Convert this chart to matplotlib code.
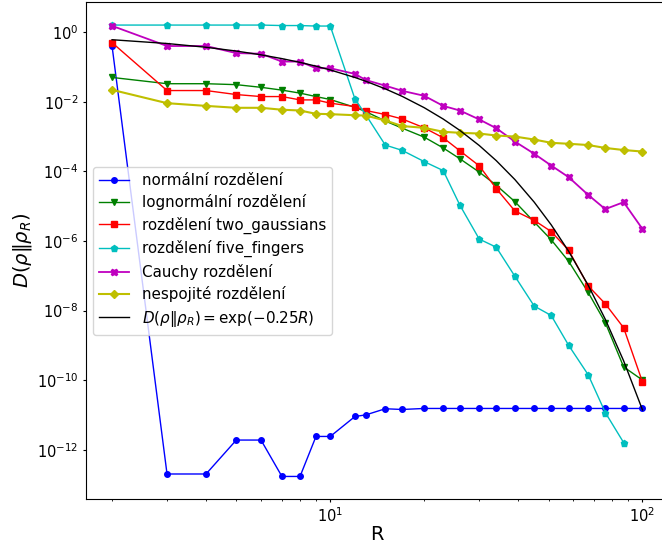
import numpy as np
import matplotlib
matplotlib.use("Agg")
import matplotlib.pyplot as plt

# hodnoty R (osa x)
R = np.array([2, 3, 4, 5, 6, 7, 8, 9, 10, 12, 13, 15, 17, 20, 23, 26, 30, 34,
              39, 45, 51, 58, 67, 76, 87, 100])

normal = [0.4, 2.0e-13, 2.0e-13, 1.89e-12, 1.89e-12, 1.7e-13, 1.7e-13,
          2.4e-12, 2.4e-12, 9.0e-12, 1.0e-11, 1.5e-11, 1.43e-11, 1.53e-11,
          1.53e-11, 1.53e-11, 1.53e-11, 1.53e-11, 1.53e-11, 1.53e-11, 1.53e-11,
          1.53e-11, 1.53e-11, 1.53e-11, 1.53e-11, 1.53e-11]

lognormal = [0.050, 0.033, 0.033, 0.031, 0.026, 0.0216, 0.0177, 0.0141, 0.0116,
             6.9e-3, 5.2e-3, 2.8e-3, 1.74e-3, 9.6e-4, 4.7e-4, 2.3e-4, 9.5e-5,
             4.0e-5, 1.35e-5, 3.5e-6, 1.08e-6, 2.6e-7, 3.3e-8, 4.5e-9,
             2.4e-10, 1.0e-10]

two_gaussians = [0.50, 0.021, 0.021, 0.0161, 0.0141, 0.0141, 0.0113, 0.0113,
                 9.1e-3, 7.3e-3, 5.6e-3, 4.3e-3, 3.2e-3, 1.78e-3, 9.2e-4,
                 3.9e-4, 1.44e-4, 3.2e-5, 7.3e-6, 3.9e-6, 1.86e-6, 5.4e-7,
                 5.1e-8, 1.56e-8, 3.2e-9, 8.8e-11]

five_fingers = [1.6, 1.6, 1.6, 1.6, 1.6, 1.55, 1.55, 1.5, 1.5, 0.0119, 4.2e-3,
                5.7e-4, 4.0e-4, 1.9e-4, 1.05e-4, 1.07e-5, 1.13e-6, 6.6e-7,
                9.7e-8, 1.34e-8, 7.2e-9, 1.0e-9, 1.42e-10, 1.17e-11, 1.6e-12,
                np.nan]

cauchy = [1.52, 0.40, 0.40, 0.25, 0.24, 0.143, 0.143, 0.092, 0.092, 0.063,
          0.042, 0.029, 0.0206, 0.0148, 7.6e-3, 5.6e-3, 3.1e-3, 1.74e-3,
          7.2e-4, 3.2e-4, 1.47e-4, 6.8e-5, 2.1e-5, 8.2e-6, 1.3e-5, 2.2e-6]

nespojite = [0.022, 9.1e-3, 7.6e-3, 6.7e-3, 6.7e-3, 5.9e-3, 5.6e-3, 4.5e-3,
             4.4e-3, 4.1e-3, 4.0e-3, 2.9e-3, 2.0e-3, 1.78e-3, 1.37e-3, 1.28e-3,
             1.22e-3, 1.07e-3, 1.0e-3, 8.2e-4, 6.6e-4, 6.2e-4, 5.7e-4, 4.7e-4,
             4.1e-4, 3.7e-4]

rate = 0.25  # D = exp(-0.25 R), jak je uvedeno v legende

fig = plt.figure(figsize=(6.62, 5.43), dpi=100)
ax = fig.add_axes([0.1292, 0.081, 0.8814, 0.9144])

ax.loglog(R, normal, 'b-o', lw=1, ms=4, label="normální rozdělení")
ax.loglog(R, lognormal, 'g-v', lw=1, ms=5, label="lognormální rozdělení")
ax.loglog(R, two_gaussians, 'r-s', lw=1, ms=5, label="rozdělení two_gaussians")
ax.loglog(R, five_fingers, 'c-p', lw=1, ms=4.5, label="rozdělení five_fingers")
ax.loglog(R, cauchy, 'm-X', lw=1.3, ms=5, label="Cauchy rozdělení")
ax.loglog(R, nespojite, 'y-D', lw=1.5, ms=4.5, label="nespojité rozdělení")
ax.loglog(R, np.exp(-rate * R), 'k-', lw=1,
          label=r"$D(\rho\|\rho_R) = \exp(-0.25R)$")

ax.set_xlabel("R", fontsize=14, labelpad=0)
ax.set_ylabel(r"$D(\rho\|\rho_R)$", fontsize=14, labelpad=2)
ax.tick_params(which='major', labelsize=10.5, length=2.5, pad=2.5)
ax.tick_params(which='minor', length=1.5)
ax.legend(loc="center left", fontsize=10.9, labelspacing=0.42)

fig.savefig("out.png", dpi=100)
